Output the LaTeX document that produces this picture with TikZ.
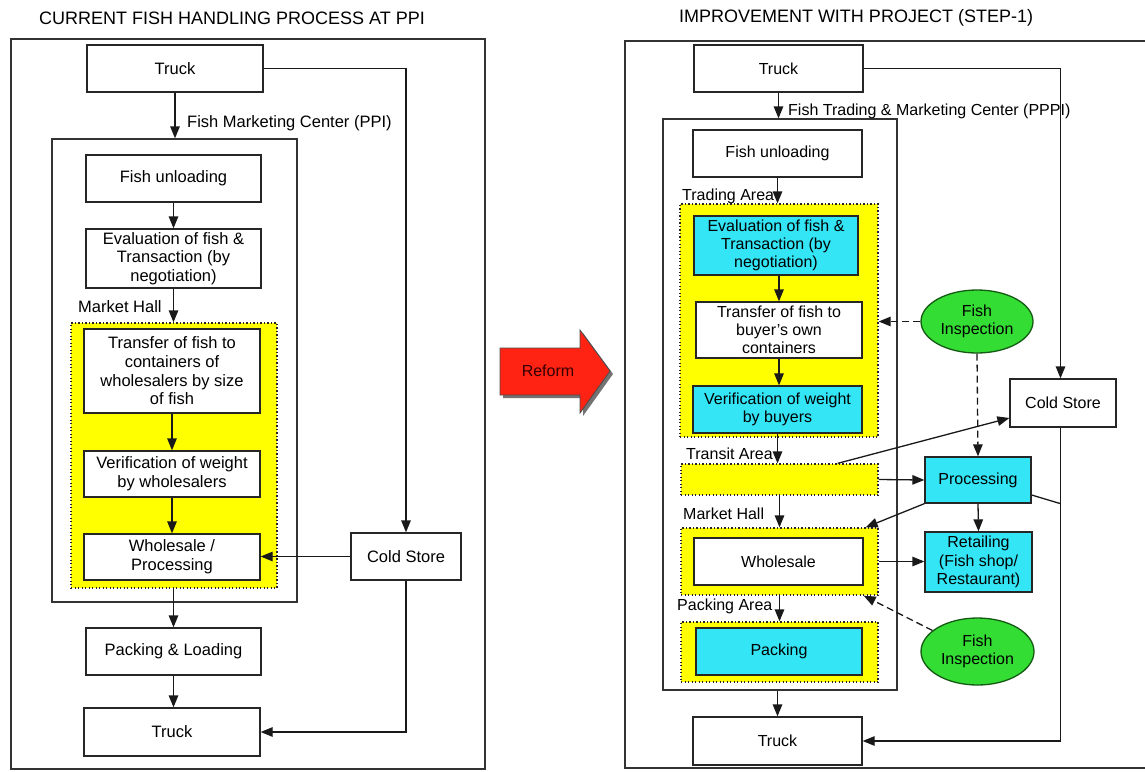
\documentclass[tikz,border=0pt]{standalone}
\usepackage{fontspec}
\setmainfont{Liberation Sans}
\usetikzlibrary{arrows.meta,shapes.geometric,calc}
\definecolor{yel}{RGB}{255,255,0}
\definecolor{cyn}{RGB}{51,229,245}
\definecolor{grn}{RGB}{51,221,51}
\definecolor{dgrn}{RGB}{20,90,20}
\definecolor{redA}{RGB}{255,35,20}
\newcommand{\bfont}{\fontsize{16.5}{18.7}\selectfont}
\begin{document}
\begin{tikzpicture}[x=1pt,y=-1pt,
 >={Triangle[length=12pt,width=9.5pt]},
 box/.style={draw=black!85, line width=1.3pt, fill=white, inner sep=0pt, align=center, font=\bfont},
 cbox/.style={box, fill=cyn},
 frame/.style={draw=black!80, line width=1.3pt, inner sep=0pt},
 zone/.style={fill=yel, draw=black!85, line width=1.3pt, dash pattern=on 1.3pt off 2.2pt, inner sep=0pt},
 insp/.style={ellipse, draw=dgrn, line width=1.3pt, fill=grn, inner sep=0pt, align=center, font=\bfont},
 lbl/.style={font=\bfont, inner sep=0pt, anchor=west},
 flow/.style={->, line width=1.3pt, draw=black!90},
 dflow/.style={flow, dash pattern=on 7pt off 4pt},
 ttl/.style={font=\fontsize{18}{20}\selectfont, inner sep=0pt}
]
\useasboundingbox (0,0) rectangle (1145,771);
\fill[white] (0,0) rectangle (1145,771);

% ---------------- Left panel ----------------
\node[ttl] (t1) at (232,18) {CURRENT FISH HANDLING PROCESS AT PPI};
\node[frame, minimum width=474, minimum height=730] (outA) at (248,404) {};
\node[frame, minimum width=245, minimum height=463] (inA) at (174.5,370.5) {};
\node[zone, minimum width=206, minimum height=265] (zA) at (174,455.5) {};

\node[box, minimum width=176, minimum height=47] (trA) at (175,68.5) {Truck};
\node[box, minimum width=175, minimum height=47] (unA) at (173.5,178.5) {Fish unloading};
\node[box, minimum width=175, minimum height=59] (evA) at (173.5,258.5) {Evaluation of fish \&\\Transaction (by\\negotiation)};
\node[box, minimum width=176, minimum height=84] (tfA) at (172,371) {Transfer of fish to\\containers of\\wholesalers by size\\of fish};
\node[box, minimum width=176, minimum height=46] (vfA) at (172,474) {Verification of weight\\by wholesalers};
\node[box, minimum width=176, minimum height=46] (wsA) at (172,557) {Wholesale /\\Processing};
\node[box, minimum width=110, minimum height=47] (csA) at (406,556.5) {Cold Store};
\node[box, minimum width=175, minimum height=47] (pkA) at (173.5,651.5) {Packing \& Loading};
\node[box, minimum width=176, minimum height=48] (trA2) at (172,732) {Truck};

\node[lbl] (lA1) at (187,123) {Fish Marketing Center (PPI)};
\node[lbl] (lA2) at (78,307) {Market Hall};

\draw[flow] (trA.south) -- (trA.south |- inA.north);
\draw[flow] (unA.south) -- (unA.south |- evA.north);
\draw[flow] (evA.south) -- (evA.south |- zA.north);
\draw[flow] (tfA.south) -- (vfA.north);
\draw[flow] (vfA.south) -- (wsA.north);
\draw[flow] (pkA.north |- zA.south) -- (pkA.north);
\draw[flow] (pkA.south) -- (pkA.south |- trA2.north);
\draw[flow] (trA.east) -| (csA.north);
\draw[flow] (csA.west) -- (csA.west -| wsA.east);
\draw[flow] (csA.south) |- (trA2.east);

% ---------------- Reform arrow ----------------
\fill[black!55] (503,351) -- (583,351) -- (583,333) -- (613,374) -- (583,416) -- (583,398) -- (503,398) -- cycle;
\draw[fill=redA, draw=black!70, line width=0.8pt] (500,348) -- (580,348) -- (580,330) -- (610,371) -- (580,413) -- (580,395) -- (500,395) -- cycle;
\node[font=\fontsize{16}{18}\selectfont, text=black!80!red, inner sep=0pt] (reform) at (548,371) {Reform};

% ---------------- Right panel ----------------
\begin{scope}
\def\bfont{\fontsize{16}{18.2}\selectfont}
\node[ttl] (t2) at (856,18) {IMPROVEMENT WITH PROJECT (STEP-1)};
\draw[frame] (1145,41) -- (625,41) -- (625,768) -- (1145,768);
\node[frame, minimum width=234, minimum height=571] (inB) at (780,404.5) {};
\node[zone, minimum width=198, minimum height=233] (z1) at (779,320.5) {};
\node[zone, minimum width=197, minimum height=31] (z2) at (779.5,479.5) {};
\node[zone, minimum width=197, minimum height=67] (z3) at (779.5,561.5) {};
\node[zone, minimum width=197, minimum height=60] (z4) at (779.5,652) {};

\node[box, minimum width=169, minimum height=47] (trB) at (778.5,68.5) {Truck};
\node[box, minimum width=169, minimum height=47] (unB) at (777.5,153.5) {Fish unloading};
\node[cbox, minimum width=164, minimum height=59] (evB) at (776,245.5) {Evaluation of fish \&\\Transaction (by\\negotiation)};
\node[box, minimum width=166, minimum height=56] (tfB) at (779,330) {Transfer of fish to\\buyer's own\\containers};
\node[cbox, minimum width=169, minimum height=47] (vfB) at (777.5,409.5) {Verification of weight\\by buyers};
\node[box, minimum width=169, minimum height=47] (wsB) at (778.5,561.5) {Wholesale};
\node[cbox, minimum width=166, minimum height=47] (pkB) at (779,651.5) {Packing};
\node[box, minimum width=169, minimum height=48] (trB2) at (777.5,741) {Truck};
\node[insp, minimum width=112, minimum height=63] (i1) at (977,321.5) {Fish\\Inspection};
\node[box, minimum width=106, minimum height=48] (csB) at (1063,403) {Cold Store};
\node[cbox, minimum width=106, minimum height=46] (prB) at (978,480) {Processing};
\node[cbox, minimum width=107, minimum height=60] (rtB) at (978.5,562) {Retailing\\(Fish shop/\\Restaurant)};
\node[insp, minimum width=113, minimum height=67] (i2) at (977.5,651.5) {Fish\\Inspection};

\node[lbl] (lB1) at (788,111) {Fish Trading \& Marketing Center (PPPI)};
\node[lbl] (lB2) at (682,196) {Trading Area};
\node[lbl] (lB3) at (686,454) {Transit Area};
\node[lbl] (lB4) at (683,514) {Market Hall};
\node[lbl] (lB5) at (677,606) {Packing Area};

\coordinate (csN) at ([xshift=-2.5pt]csB.north);
\coordinate (csS) at ([xshift=-2.5pt]csB.south);
\draw[flow] (trB.south) -- (trB.south |- inB.north);
\draw[flow] (unB.south) -- (unB.south |- z1.north);
\draw[flow] (tfB.north |- evB.south) -- (tfB.north);
\draw[flow] (tfB.south) -- (tfB.south |- vfB.north);
\draw[flow] (vfB.south) -- (vfB.south |- z2.north);
\draw[flow] (z2.south) -- (z3.north);
\draw[flow] (z3.south) -- (z4.north);
\draw[flow] (trB2.north |- inB.south) -- (trB2.north);
\draw[flow] (trB.east) -| (csN);
\draw[dflow] (i1.west) -- (i1.west -| z1.east);
\draw[dflow] (i1.south) -- (prB.north);
\draw[flow] ([xshift=-41pt]z2.north east) -- ([yshift=-15pt]csB.west);
\draw[flow] (z2.east) -- (prB.west);
\draw[flow] (prB.south west) -- ([xshift=-13pt]z3.north east);
\coordinate (j) at (csS |- prB.south);
\draw[line width=1.3pt, draw=black!90] ([yshift=-15pt]prB.east) -- (j);
\draw[flow] (csS) |- (trB2.east);
\draw[flow] (prB.south) -- (rtB.north);
\draw[flow] (z3.east) -- (z3.east -| rtB.west);
\draw[dflow] (i2.155) -- ([xshift=-15pt]z3.south east);
\end{scope}
\end{tikzpicture}
\end{document}
